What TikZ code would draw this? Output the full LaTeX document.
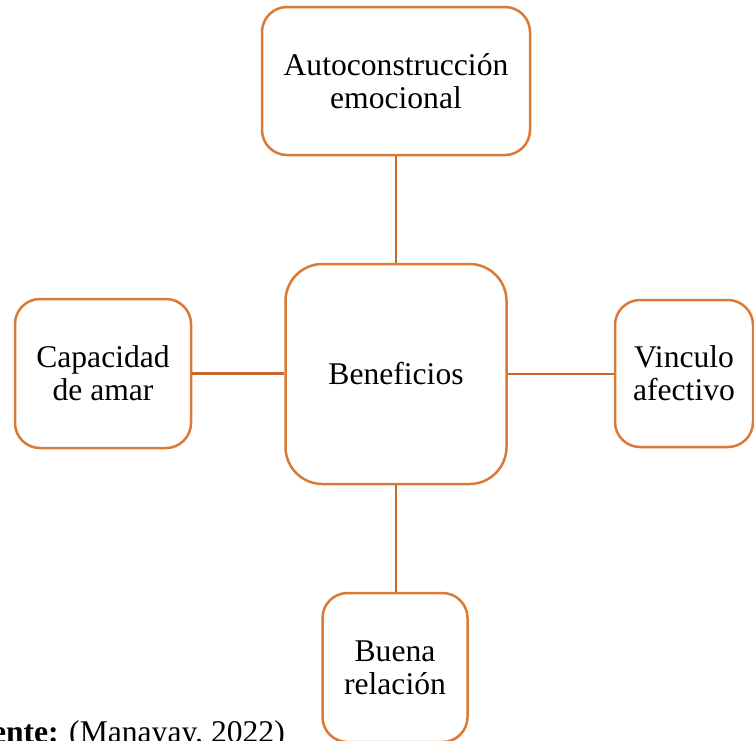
\documentclass[tikz,border=0pt]{standalone}
\usepackage{fontspec}
\setmainfont{Liberation Serif}
\definecolor{boxorange}{RGB}{218,122,52}
\definecolor{lineorange}{RGB}{200,104,42}
\tikzset{
  card/.style={draw=boxorange, line width=2.5pt, fill=white, rounded corners=25pt,
    align=center, inner sep=0pt, font=\fontsize{31.6}{33}\selectfont},
  link/.style={draw=lineorange, line width=2.2pt},
}
\begin{document}
\begin{tikzpicture}[x=1pt,y=-1pt]
\useasboundingbox (0,0) rectangle (754,740);
\clip (0,0) rectangle (754,740);
\fill[white] (0,0) rectangle (754,740);
\node[card, minimum width=268pt, minimum height=148pt] (top) at (396,81) {Autoconstrucción\\emocional};
\node[card, minimum width=221pt, minimum height=220pt, rounded corners=37pt] (mid) at (396,374) {Beneficios};
\node[card, minimum width=176pt, minimum height=149pt] (left) at (103,373.5) {Capacidad\\de amar};
\node[card, minimum width=138pt, minimum height=147pt] (right) at (684,373.5) {Vinculo\\afectivo};
\node[card, minimum width=145pt, minimum height=149pt] (bot) at (395,667.5) {Buena\\relación};
\draw[link] (top.south) -- (top.south |- mid.north);
\draw[link] (mid.south) -- (mid.south |- bot.north);
\draw[link] (left.east) -- (left.east -| mid.west);
\draw[link] (mid.east) -- (mid.east -| right.west);
\node[anchor=base east, inner sep=0pt, font=\fontsize{31.6}{33}\selectfont] (src) at (285,742) {\textbf{Fuente:} (Manayay, 2022)};
\end{tikzpicture}
\end{document}
